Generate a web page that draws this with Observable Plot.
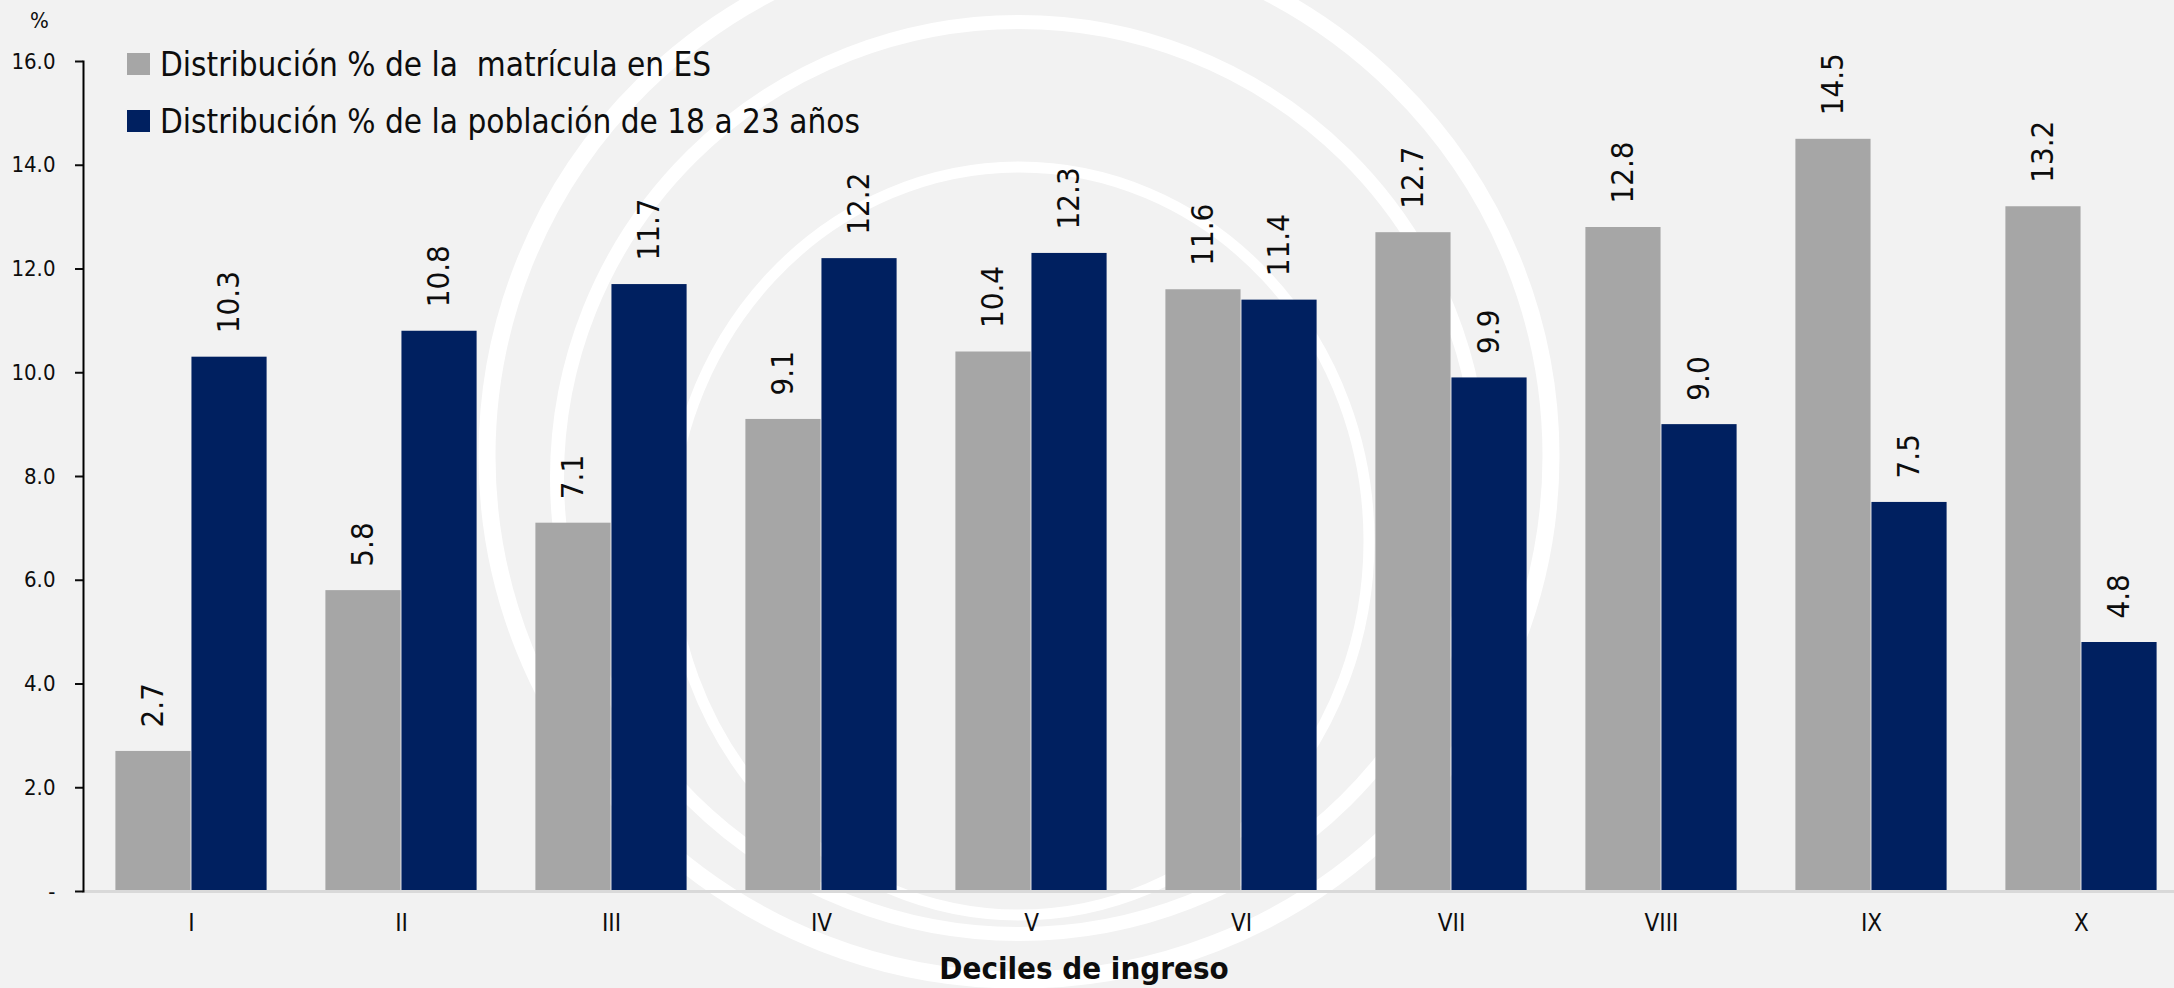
<!DOCTYPE html>
<html>
<head>
<meta charset="utf-8">
<script src="https://cdn.jsdelivr.net/npm/d3@7"></script>
<script src="https://cdn.jsdelivr.net/npm/@observablehq/plot@0.6"></script>
<style>
  html, body { margin: 0; padding: 0; background: #f2f2f2; }
  #wrap { position: relative; width: 2174px; height: 988px; overflow: hidden;
          font-family: "Liberation Sans Narrow", "DejaVu Sans Condensed", "Liberation Sans", sans-serif; color: #0d0d0d; }
  #rings, #chart { position: absolute; left: 0; top: 0; }
  .lg { position: absolute; left: 127px; height: 44px; display: flex; align-items: center; font-size: 33px; white-space: pre; }
  .sw { width: 23px; height: 22px; margin-right: 10px; }
  #pct { position: absolute; left: 30px; top: 8px; font-size: 22px; }
  #xtitle { position: absolute; left: 1084px; top: 950px; transform: translateX(-50%); font-size: 31px; font-weight: bold; white-space: nowrap; }
</style>
</head>
<body>
<div id="wrap">
  <svg id="rings" width="2174" height="988">
    <ellipse cx="1019" cy="456" rx="532" ry="524" fill="none" stroke="#ffffff" stroke-width="17"/>
    <ellipse cx="1019" cy="478" rx="462" ry="456" fill="none" stroke="#ffffff" stroke-width="14"/>
    <ellipse cx="1019" cy="541" rx="350" ry="374" fill="none" stroke="#ffffff" stroke-width="11"/>
  </svg>
  <div id="chart"></div>
  <div id="pct">%</div>
  <div id="legend"></div>
  <div id="xtitle">Deciles de ingreso</div>
</div>
<script>
const deciles = ["I", "II", "III", "IV", "V", "VI", "VII", "VIII", "IX", "X"];
const matricula = [2.7, 5.8, 7.1, 9.1, 10.4, 11.6, 12.7, 12.8, 14.5, 13.2];
const poblacion = [10.3, 10.8, 11.7, 12.2, 12.3, 11.4, 9.9, 9.0, 7.5, 4.8];
const yTicks = [0, 2, 4, 6, 8, 10, 12, 14, 16];
const seriesNames = ["Distribución % de la  matrícula en ES", "Distribución % de la población de 18 a 23 años"];
const seriesColors = ["#a6a6a6", "#002060"];

const rows = deciles.map((d, i) => ({decile: d, m: matricula[i], p: poblacion[i]}));

const step = 210.9, x0 = 81.5, half = step / 2, outer = 29.4, off = 38;
const font = '"Liberation Sans Narrow", "DejaVu Sans Condensed", "Liberation Sans", sans-serif';

const chart = Plot.plot({
  width: 2174, height: 988,
  marginLeft: 83, marginRight: 0, marginTop: 61, marginBottom: 97,
  style: {background: "transparent", fontFamily: font, color: "#0d0d0d"},
  x: {domain: deciles, range: [x0, x0 + 10 * step], padding: 0, label: null},
  y: {domain: [0, 16], label: null},
  marks: [
    Plot.barY(rows, {x: "decile", y: "m", fill: seriesColors[0], insetLeft: outer, insetRight: half}),
    Plot.barY(rows, {x: "decile", y: "p", fill: seriesColors[1], insetLeft: half, insetRight: outer}),
    Plot.ruleY([0], {stroke: "#d9d9d9", strokeWidth: 3}),
    Plot.text(rows, {x: "decile", y: "m", text: d => d.m.toFixed(1), rotate: -90, textAnchor: "start", lineAnchor: "middle", dx: -off, dy: -24, fontSize: 31, fill: "#0d0d0d"}),
    Plot.text(rows, {x: "decile", y: "p", text: d => d.p.toFixed(1), rotate: -90, textAnchor: "start", lineAnchor: "middle", dx: off, dy: -24, fontSize: 31, fill: "#0d0d0d"}),
    Plot.axisX({tickSize: 0, tickPadding: 22, fontSize: 24, label: null}),
    Plot.axisY({ticks: yTicks, tickFormat: d => d === 0 ? "-" : d.toFixed(1), tickSize: 8, tickPadding: 20, fontSize: 22, label: null, strokeWidth: 2}),
    Plot.frame({anchor: "left", stroke: "#000", strokeWidth: 2})
  ]
});
document.getElementById("chart").appendChild(chart);

const lg = document.getElementById("legend");
seriesNames.forEach((name, i) => {
  const row = document.createElement("div");
  row.className = "lg";
  row.style.top = (42 + i * 57) + "px";
  const sw = document.createElement("div");
  sw.className = "sw";
  sw.style.background = seriesColors[i];
  const t = document.createElement("span");
  t.textContent = name;
  row.appendChild(sw);
  row.appendChild(t);
  lg.appendChild(row);
});
</script>
</body>
</html>
